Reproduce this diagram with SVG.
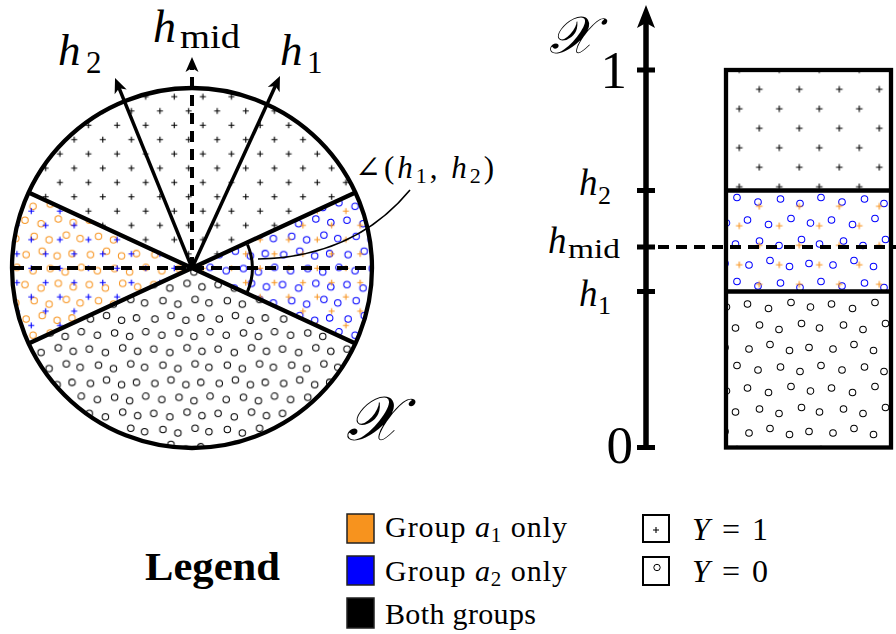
<svg xmlns="http://www.w3.org/2000/svg" xmlns:xlink="http://www.w3.org/1999/xlink" width="896" height="634" viewBox="0 0 896 634">
<style>
.t{font-family:"Liberation Serif","DejaVu Serif",serif;fill:#000}
.i{font-style:italic}
.scr{font-family:"DejaVu Serif","Noto Sans","Liberation Serif",serif;fill:#000}
.thick{stroke:#000;stroke-width:4.3;fill:none}
.dash{stroke:#000;stroke-width:4;fill:none;stroke-dasharray:11 7}
</style>
<defs>
<g id="cpts" fill="none" stroke-width="0.9">
<circle cx="6" cy="5" r="2.8"/><circle cx="20" cy="8" r="2.8"/><circle cx="35" cy="6" r="2.8"/><circle cx="48" cy="9" r="2.8"/>
<circle cx="13" cy="20" r="2.8"/><circle cx="27" cy="23" r="2.8"/><circle cx="42" cy="19" r="2.8"/><circle cx="55" cy="22" r="2.8"/><circle cx="-1" cy="22" r="2.8"/>
<circle cx="5" cy="36" r="2.8"/><circle cx="21" cy="34" r="2.8"/><circle cx="34" cy="37" r="2.8"/><circle cx="49" cy="33" r="2.8"/>
<circle cx="14" cy="50" r="2.8"/><circle cx="28" cy="47" r="2.8"/><circle cx="41" cy="51" r="2.8"/><circle cx="54" cy="49" r="2.8"/><circle cx="-2" cy="49" r="2.8"/>
</g>
<g id="cptsR" fill="none" stroke-width="0.68">
<circle cx="6" cy="5" r="2.2"/><circle cx="20" cy="8" r="2.2"/><circle cx="35" cy="6" r="2.2"/><circle cx="48" cy="9" r="2.2"/>
<circle cx="13" cy="20" r="2.2"/><circle cx="27" cy="23" r="2.2"/><circle cx="42" cy="19" r="2.2"/><circle cx="55" cy="22" r="2.2"/><circle cx="-1" cy="22" r="2.2"/>
<circle cx="5" cy="36" r="2.2"/><circle cx="21" cy="34" r="2.2"/><circle cx="34" cy="37" r="2.2"/><circle cx="49" cy="33" r="2.2"/>
<circle cx="14" cy="50" r="2.2"/><circle cx="28" cy="47" r="2.2"/><circle cx="41" cy="51" r="2.2"/><circle cx="54" cy="49" r="2.2"/><circle cx="-2" cy="49" r="2.2"/>
</g>
<path id="pl" d="M-3,0H3M0,-3V3" stroke-width="1.1" fill="none"/>
<path id="plb" d="M-3.3,0H3.3M0,-3.3V3.3" stroke-width="1.1" fill="none"/>
<pattern id="plusK" patternUnits="userSpaceOnUse" x="24.15" y="3.75" width="28.6" height="28.6"><use href="#pl" x="7.15" y="7.15" stroke="#000"/><use href="#pl" x="21.45" y="21.45" stroke="#000"/></pattern>
<pattern id="plusB" patternUnits="userSpaceOnUse" x="24.15" y="3.75" width="28.6" height="28.6"><use href="#pl" x="7.15" y="7.15" stroke="#0000ff"/><use href="#pl" x="21.45" y="21.45" stroke="#0000ff"/></pattern>
<pattern id="plusO" patternUnits="userSpaceOnUse" x="24.15" y="3.75" width="28.6" height="28.6"><use href="#pl" x="7.15" y="7.15" stroke="#f7931e"/><use href="#pl" x="21.45" y="21.45" stroke="#f7931e"/></pattern>
<pattern id="circK" patternUnits="userSpaceOnUse" x="0" y="0" width="56" height="56" patternTransform="translate(10,4) scale(1.15)"><use href="#cpts" stroke="#000"/></pattern>
<pattern id="circO" patternUnits="userSpaceOnUse" x="0" y="0" width="56" height="56" patternTransform="translate(10,4) scale(1.15)"><use href="#cpts" stroke="#f7931e"/></pattern>
<pattern id="circB" patternUnits="userSpaceOnUse" x="0" y="0" width="56" height="56" patternTransform="translate(10,4) scale(1.15)"><use href="#cpts" stroke="#0000ff"/></pattern>
<pattern id="rplusK" patternUnits="userSpaceOnUse" x="749.3" y="79.55" width="40" height="39"><use href="#plb" x="10" y="9.75" stroke="#000"/><use href="#plb" x="30" y="29.25" stroke="#000"/></pattern>
<pattern id="rplusO" patternUnits="userSpaceOnUse" x="749.3" y="79.55" width="40" height="39"><use href="#plb" x="10" y="9.75" stroke="#f7931e"/><use href="#plb" x="30" y="29.25" stroke="#f7931e"/></pattern>
<pattern id="rcircK" patternUnits="userSpaceOnUse" x="0" y="0" width="56" height="56" patternTransform="translate(728,190) scale(1.5)"><use href="#cptsR" stroke="#000"/></pattern>
<pattern id="rcircB" patternUnits="userSpaceOnUse" x="0" y="0" width="56" height="56" patternTransform="translate(728,190) scale(1.5)"><use href="#cptsR" stroke="#0000ff"/></pattern>
<marker id="ah" markerUnits="userSpaceOnUse" viewBox="-20 -10 30 20" refX="-10" refY="0" markerWidth="30" markerHeight="20" orient="auto"><path d="M0,0 L-15,-6.5 L-11,0 L-15,6.5 Z" fill="#000"/></marker>
<marker id="ahBig" markerUnits="userSpaceOnUse" viewBox="-30 -12 40 24" refX="-14" refY="0" markerWidth="40" markerHeight="24" orient="auto"><path d="M0,0 L-23,-9 L-18,0 L-23,9 Z" fill="#000"/></marker>
</defs>
<rect width="896" height="634" fill="#fff"/>

<g id="pie">
<path id="sec-top" d="M192,268 L355.4,192.5 A180,180 0 0,0 28.6,192.5 Z" fill="url(#plusK)"/>
<path id="sec-right" d="M192,268 L355.4,343.5 A180,180 0 0,0 355.4,192.5 Z" fill="url(#circB)"/>
<path d="M192,268 L355.4,343.5 A180,180 0 0,0 355.4,192.5 Z" fill="url(#plusO)"/>
<path id="sec-left" d="M192,268 L28.6,192.5 A180,180 0 0,0 28.6,343.5 Z" fill="url(#circO)"/>
<path d="M192,268 L28.6,192.5 A180,180 0 0,0 28.6,343.5 Z" fill="url(#plusB)"/>
<path id="sec-bottom" d="M192,268 L28.6,343.5 A180,180 0 0,0 355.4,343.5 Z" fill="url(#circK)"/>
<circle cx="192" cy="268" r="180" class="thick"/>
<path d="M192,268 L355.4,192.5 M192,268 L355.4,343.5 M192,268 L28.6,192.5 M192,268 L28.6,343.5" class="thick"/>
<text class="scr" x="346" y="440" font-size="62" font-style="italic">𝒳</text>
</g>

<g id="axis">
<line x1="646" y1="450" x2="646" y2="19" stroke="#000" stroke-width="5.5" marker-end="url(#ahBig)"/>
<path d="M637,70H655 M637,190.5H655 M637,247H655 M637,291.5H655 M637,447.5H655" stroke="#000" stroke-width="5"/>
<text class="scr" x="549" y="53" font-size="52" font-style="italic">𝒳</text>
<text class="t" x="627" y="88" font-size="53" text-anchor="end">1</text>
<text class="t" x="633" y="463" font-size="53" text-anchor="end">0</text>
<text class="t i" x="579" y="195" font-size="37">h</text><text class="t" x="598" y="204" font-size="26">2</text>
<text class="t i" x="548" y="253" font-size="37">h</text><text class="t" x="568" y="258" font-size="27" textLength="52" lengthAdjust="spacingAndGlyphs">mid</text>
<text class="t i" x="579" y="306" font-size="37">h</text><text class="t" x="598" y="314" font-size="26">1</text>
</g>

<g id="bar">
<rect x="726" y="70" width="165" height="120.5" fill="url(#rplusK)"/>
<rect x="726" y="190.5" width="165" height="101" fill="url(#rcircB)"/>
<rect x="726" y="190.5" width="165" height="101" fill="url(#rplusO)"/>
<rect x="726" y="291.5" width="165" height="156" fill="url(#rcircK)"/>
<rect x="726" y="70" width="165" height="377.5" stroke="#000" stroke-width="4.3" fill="none"/>
<path d="M726,190.5H891 M726,291.5H891" stroke="#000" stroke-width="4.3"/>
</g>

<g id="connectors">
<line x1="13" y1="268" x2="372" y2="268" class="dash"/>
<line x1="192" y1="268" x2="192" y2="67" class="dash" marker-end="url(#ah)"/>
<line x1="192" y1="268" x2="118.8" y2="87.3" stroke="#000" stroke-width="3.5" marker-end="url(#ah)"/>
<line x1="192" y1="268" x2="275.8" y2="85.1" stroke="#000" stroke-width="3.5" marker-end="url(#ah)"/>
<path d="M247.5,244.5 A61,61 0 0,1 247,292.8" stroke="#000" stroke-width="3" fill="none"/>
<path d="M258,259 C320,258 372,236 410,190" stroke="#000" stroke-width="1.6" fill="none"/>
<line x1="658" y1="247" x2="896" y2="247" class="dash"/>
</g>

<g id="labels">
<text class="t i" x="58" y="65" font-size="45">h</text><text class="t" x="86" y="73" font-size="31">2</text>
<text class="t i" x="153" y="42" font-size="46">h</text><text class="t" x="180" y="48" font-size="33" textLength="60" lengthAdjust="spacingAndGlyphs">mid</text>
<text class="t i" x="280" y="65" font-size="45">h</text><text class="t" x="307" y="73" font-size="31">1</text>
<text class="t" x="355" y="178" font-size="31" textLength="139">∠(<tspan class="i">h</tspan><tspan font-size="22" dy="5">1</tspan><tspan dy="-5">, </tspan><tspan class="i">h</tspan><tspan font-size="22" dy="5">2</tspan><tspan dy="-5">)</tspan></text>
</g>

<g id="legend">
<text class="t" x="145" y="580" font-size="40" font-weight="bold" textLength="135" lengthAdjust="spacingAndGlyphs">Legend</text>
<rect x="347" y="514" width="27" height="29" fill="#f7931e" stroke="#222" stroke-width="1.5"/>
<rect x="347" y="556" width="27" height="29" fill="#0000ff" stroke="#222" stroke-width="1.5"/>
<rect x="347" y="598" width="27" height="30" fill="#000" stroke="#222" stroke-width="1.5"/>
<text class="t" x="385" y="537" font-size="30" textLength="182">Group <tspan class="i">a</tspan><tspan font-size="21" dy="5">1</tspan><tspan dy="-5"> only</tspan></text>
<text class="t" x="385" y="581" font-size="30" textLength="182">Group <tspan class="i">a</tspan><tspan font-size="21" dy="5">2</tspan><tspan dy="-5"> only</tspan></text>
<text class="t" x="385" y="624" font-size="30" textLength="151">Both groups</text>
<rect x="643" y="515" width="26" height="27" fill="#fff" stroke="#000" stroke-width="2"/>
<use href="#pl" x="656" y="530" stroke="#000"/>
<rect x="643" y="557" width="26" height="28" fill="#fff" stroke="#000" stroke-width="2"/>
<circle cx="657" cy="567.5" r="3.2" fill="none" stroke="#000" stroke-width="1"/>
<text class="t" x="692" y="540" font-size="32" textLength="76"><tspan class="i">Y</tspan> = 1</text>
<text class="t" x="692" y="582" font-size="32" textLength="76"><tspan class="i">Y</tspan> = 0</text>
</g>
</svg>
